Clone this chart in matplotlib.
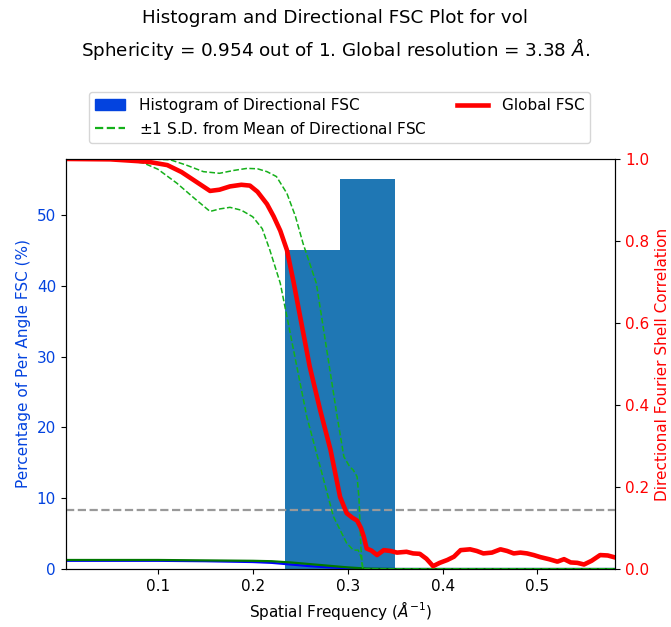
import matplotlib
matplotlib.use("Agg")
import matplotlib.pyplot as plt
import matplotlib.patches as mpatches
import matplotlib.lines as mlines
import numpy as np

# Histogram of directional FSC resolution (percent)
hist_edges = [0.234, 0.292, 0.350]
hist_pct = [45, 55]

# Global FSC
gfsc_x = [0.003, 0.05, 0.09, 0.11, 0.125, 0.14, 0.155, 0.165, 0.176, 0.188, 0.197,
          0.205, 0.215, 0.222, 0.229, 0.236, 0.243, 0.250, 0.260, 0.271, 0.282,
          0.292, 0.299, 0.305, 0.310, 0.314, 0.317, 0.320, 0.325, 0.331, 0.338,
          0.345, 0.352, 0.362, 0.369, 0.376, 0.383, 0.390, 0.397, 0.405, 0.412,
          0.419, 0.429, 0.436, 0.443, 0.452, 0.461, 0.468, 0.475, 0.482, 0.489,
          0.496, 0.503, 0.512, 0.521, 0.528, 0.535, 0.542, 0.549, 0.557, 0.566,
          0.574, 0.582]
gfsc_y = [1.0, 0.999, 0.993, 0.985, 0.968, 0.945, 0.922, 0.925, 0.933, 0.937, 0.935,
          0.92, 0.89, 0.86, 0.825, 0.778, 0.70, 0.615, 0.494, 0.388, 0.290,
          0.176, 0.136, 0.125, 0.118, 0.10, 0.079, 0.05, 0.045, 0.034, 0.046,
          0.044, 0.040, 0.042, 0.038, 0.037, 0.025, 0.007, 0.015, 0.022, 0.030,
          0.046, 0.048, 0.044, 0.038, 0.040, 0.048, 0.044, 0.038, 0.040, 0.038,
          0.034, 0.029, 0.024, 0.018, 0.024, 0.016, 0.015, 0.011, 0.020, 0.034,
          0.033, 0.028]

# +1 S.D. from mean directional FSC
sd_hi_x = [0.003, 0.09, 0.113, 0.13, 0.148, 0.165, 0.18, 0.194, 0.205, 0.215,
           0.225, 0.236, 0.245, 0.253, 0.267, 0.278, 0.289, 0.296, 0.302, 0.306,
           0.310, 0.312, 0.314, 0.316, 0.582]
sd_hi_y = [1.0, 1.0, 0.998, 0.985, 0.969, 0.965, 0.972, 0.977, 0.976, 0.969,
           0.957, 0.916, 0.86, 0.794, 0.697, 0.534, 0.371, 0.274, 0.250, 0.241,
           0.225, 0.17, 0.05, 0.0, 0.0]

# -1 S.D. from mean directional FSC
sd_lo_x = [0.003, 0.06, 0.085, 0.10, 0.120, 0.138, 0.155, 0.165, 0.176, 0.188,
           0.200, 0.210, 0.218, 0.229, 0.243, 0.257, 0.271, 0.285, 0.299, 0.306,
           0.311, 0.314, 0.316, 0.582]
sd_lo_y = [1.0, 0.999, 0.99, 0.975, 0.941, 0.905, 0.872, 0.878, 0.882, 0.875,
           0.859, 0.83, 0.778, 0.697, 0.534, 0.371, 0.25, 0.128, 0.063, 0.046,
           0.046, 0.03, 0.0, 0.0]

# Low curves near baseline
base_x = [0.003, 0.10, 0.15, 0.20, 0.22, 0.24, 0.26, 0.28, 0.30, 0.32, 0.35, 0.582]
base_green = [0.022, 0.022, 0.021, 0.020, 0.019, 0.016, 0.012, 0.008, 0.004, 0.001, 0.0, 0.0]
base_blue = [0.020, 0.020, 0.019, 0.017, 0.015, 0.011, 0.007, 0.004, 0.002, 0.0, 0.0, 0.0]

threshold = 0.143

BLUE = "#0343df"
RED = "#ff0000"
GREEN = "#15b01a"
FS = 11

fig = plt.figure(figsize=(6.71, 6.27), dpi=100)
ax1 = fig.add_axes([0.098, 0.0925, 0.819, 0.654])
ax2 = ax1.twinx()

ax1.bar(hist_edges[:-1], hist_pct, width=np.diff(hist_edges), align="edge",
        color="#1f77b4", zorder=1)
ax1.set_ylim(0, 57.9)
ax1.set_xlim(0.003, 0.582)
ax1.set_ylabel("Percentage of Per Angle FSC (%)", color=BLUE, fontsize=FS)
ax1.tick_params(axis="y", labelcolor=BLUE, labelsize=FS)
ax1.tick_params(axis="x", labelsize=FS)
ax1.set_xlabel(r"Spatial Frequency ($\AA^{-1}$)", fontsize=FS)
ax1.set_xticks([0.1, 0.2, 0.3, 0.4, 0.5])

ax2.plot(base_x, base_blue, color="#0000ff", lw=1.6)
ax2.plot(base_x, base_green, color="#007700", lw=1.6)
ax2.axhline(threshold, color="#999999", ls="--", lw=1.6)
ax2.plot(sd_hi_x, sd_hi_y, color=GREEN, ls="--", lw=1.1)
ax2.plot(sd_lo_x, sd_lo_y, color=GREEN, ls="--", lw=1.1)
ax2.plot(gfsc_x, gfsc_y, color=RED, lw=3.3)
ax2.set_ylim(0, 1.0)
ax2.set_ylabel("Directional Fourier Shell Correlation", color=RED, fontsize=FS)
ax2.tick_params(axis="y", labelcolor=RED, labelsize=FS)

fig.suptitle("Histogram and Directional FSC Plot for vol\n"
             r"Sphericity = 0.954 out of 1. Global resolution = 3.38 $\AA$.",
             fontsize=13.2, y=0.986, linespacing=1.45)

h1 = mpatches.Patch(color=BLUE, label="Histogram of Directional FSC")
h2 = mlines.Line2D([], [], color=GREEN, ls="--", lw=1.6, label=r"$\pm$1 S.D. from Mean of Directional FSC")
h3 = mlines.Line2D([], [], color=RED, lw=3.3, label="Global FSC")
fig.legend(handles=[h1, h2, h3], ncol=2, loc="center", bbox_to_anchor=(0.506, 0.813),
           fontsize=FS, columnspacing=2.0, handletextpad=0.9)

fig.savefig("out.png", dpi=100)
